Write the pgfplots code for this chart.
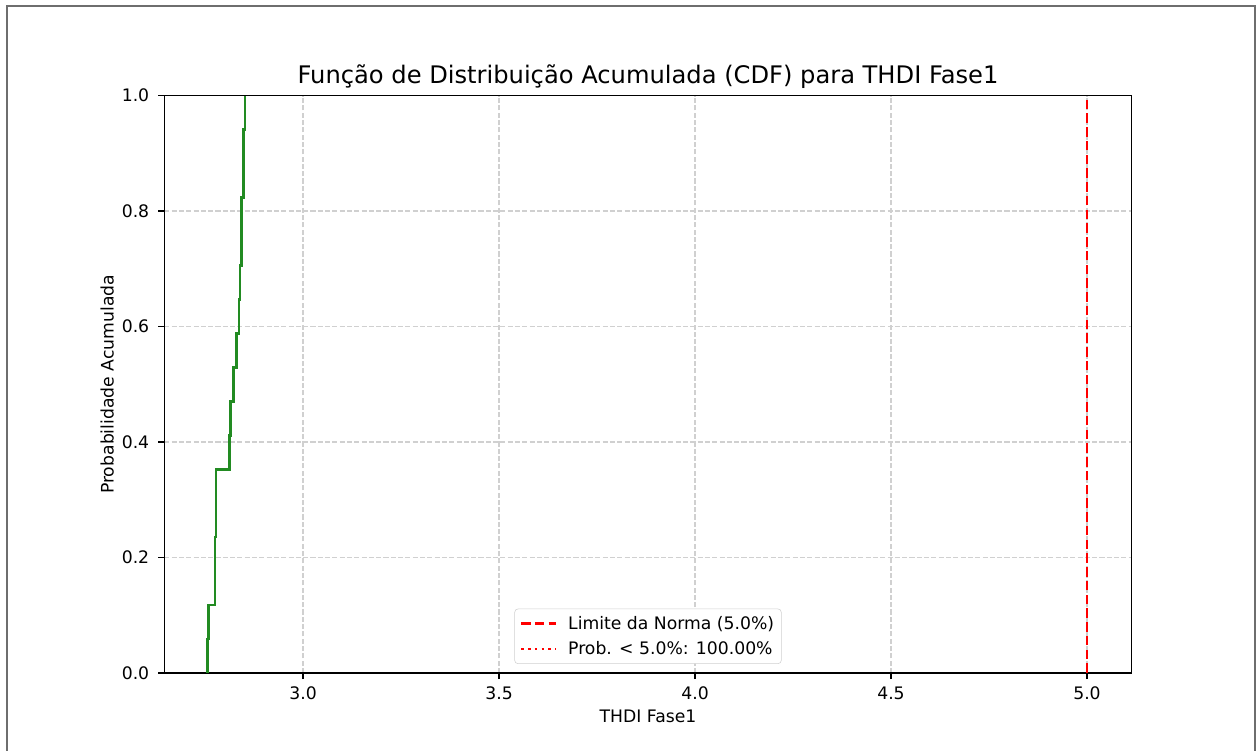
\documentclass[border=0pt]{standalone}
\usepackage{fontspec}
\setmainfont{DejaVu Sans}
\usepackage{pgfplots}
\pgfplotsset{compat=1.18}
\definecolor{cdfgreen}{RGB}{34,139,34}
\definecolor{gridgray}{RGB}{208,208,208}
\definecolor{framegray}{RGB}{110,110,110}
\begin{document}
\begin{tikzpicture}[x=0.72pt,y=0.72pt]
\useasboundingbox (0,0) rectangle (1257,751);
\draw[color=framegray, line width=0.9pt] (7,0) -- (7,745) -- (1255,745) -- (1255,0);
\begin{axis}[
  at={(118.3pt,56.16pt)}, anchor=south west,
  scale only axis, width=696.5pt, height=415.7pt,
  xmin=2.646, xmax=5.114, ymin=0, ymax=1,
  xtick={3.0,3.5,4.0,4.5,5.0},
  ytick={0,0.2,0.4,0.6,0.8,1.0},
  xticklabel style={yshift=-2.1pt, /pgf/number format/.cd, fixed, fixed zerofill, precision=1},
  yticklabel style={xshift=-3pt, /pgf/number format/.cd, fixed, fixed zerofill, precision=1},
  /pgf/number format/assume math mode=true,
  tick label style={font=\fontsize{12.4}{14.8}\selectfont},
  tick align=outside, major tick length=4.34pt,
  tick style={black, line width=1pt},
  xtick pos=bottom, ytick pos=left,
  axis line style={black, line width=1pt},
  grid=major,
  major grid style={gridgray, dash pattern=on 3.67pt off 1.59pt, line width=1pt},
  every axis title shift=0pt,
  title={Função de Distribuição Acumulada (CDF) para THDI Fase1},
  title style={font=\fontsize{17.4}{20}\selectfont, at={([yshift=8.4pt]axis description cs:0.5,1)}, anchor=base},
  xlabel={THDI Fase1},
  xlabel style={font=\fontsize{12.4}{14.8}\selectfont, at={([yshift=-35.6pt]axis description cs:0.5,0)}, anchor=base},
  ylabel={Probabilidade Acumulada},
  ylabel style={font=\fontsize{12.4}{14.8}\selectfont, at={([xshift=-36.5pt]axis description cs:0,0.5)}, anchor=base, rotate=0},
  legend style={at={([yshift=6.5pt]axis description cs:0.5,0)}, anchor=south,
    font=\fontsize{12.4}{14.8}\selectfont, draw=gridgray, rounded corners=2.5pt, fill=white,
    row sep=3.2pt, inner sep=3.2pt},
  legend cell align=left,
  legend image code/.code={\draw[#1] (0pt,0pt) -- (25pt,0pt); \path (-0.5pt,0pt) (31pt,0pt);},
]
\addplot[cdfgreen, line width=1.86pt, forget plot] coordinates {
(2.7564,0) (2.7564,0.0588) (2.7594,0.0588) (2.7594,0.1176)
(2.7755,0.1176) (2.7755,0.2353) (2.7781,0.2353) (2.7781,0.3529)
(2.8120,0.3529) (2.8120,0.4118) (2.8156,0.4118) (2.8156,0.4706)
(2.8222,0.4706) (2.8222,0.5294) (2.8309,0.5294) (2.8309,0.5882)
(2.8367,0.5882) (2.8367,0.6471) (2.8393,0.6471) (2.8393,0.7059)
(2.8436,0.7059) (2.8436,0.8235) (2.8477,0.8235) (2.8477,0.9412)
(2.8520,0.9412) (2.8520,1.0)
};
\addplot[red, line width=1.86pt, dash pattern=on 6.9pt off 3pt] coordinates {(5.0,0) (5.0,1)};
\addlegendentry{Limite da Norma (5.0\%)}
\addlegendimage{red, line width=1.86pt, dash pattern=on 1.86pt off 3.07pt}
\addlegendentry{Prob. < 5.0\%: 100.00\%}
\end{axis}
\end{tikzpicture}
\end{document}
